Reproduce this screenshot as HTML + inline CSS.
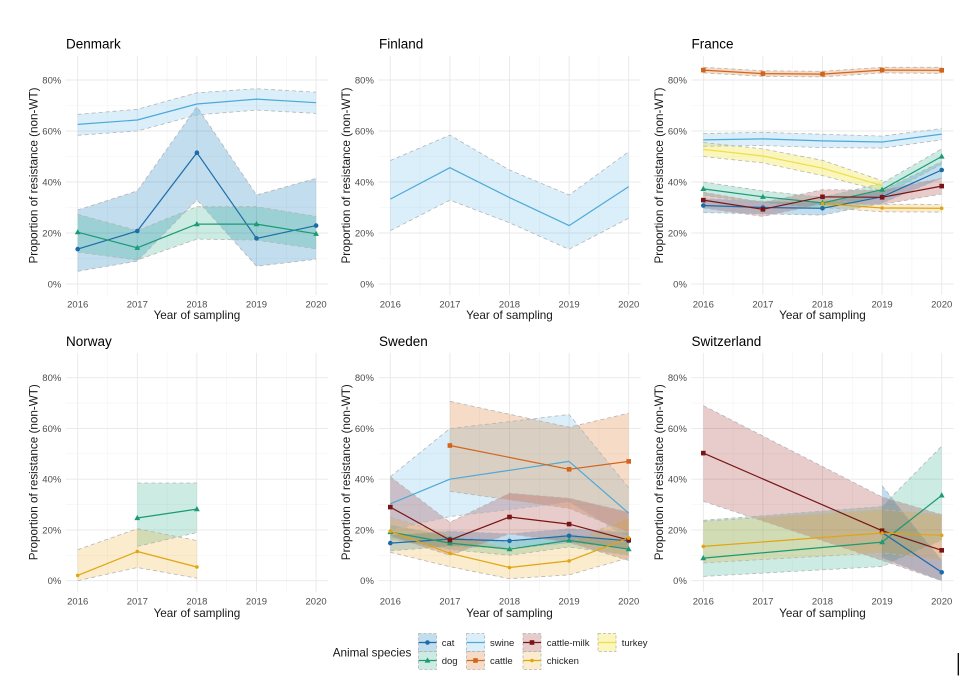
<!DOCTYPE html>
<html><head><meta charset="utf-8"><style>
html,body{margin:0;padding:0;background:#fff;}
svg{display:block;font-family:"Liberation Sans",Arial,sans-serif;}
.mj{stroke:#e8e8e8;stroke-width:0.9;fill:none}
.mn{stroke:#f3f3f3;stroke-width:0.6;fill:none}
.yt{font-size:9.5px;fill:#4d4d4d;text-anchor:end}
.xt{font-size:9.5px;fill:#4d4d4d;text-anchor:middle}
.at{font-size:11.7px;fill:#1a1a1a;text-anchor:middle}
.tt{font-size:13.5px;fill:#000}
.lg{font-size:9.5px;fill:#222}
.ed{fill:none;stroke:#b5b5b5;stroke-width:0.8;stroke-dasharray:4 3}
.ln{fill:none;stroke-width:1.2;stroke-linejoin:round}
.fcat{fill:#0072B2;fill-opacity:.24}
.fdog{fill:#009E73;fill-opacity:.2}
.fsw{fill:#56B4E9;fill-opacity:.22}
.fct{fill:#D55E00;fill-opacity:.22}
.fcm{fill:#8B0000;fill-opacity:.2}
.fch{fill:#E69F00;fill-opacity:.2}
.ftk{fill:#F0E442;fill-opacity:.35}
.scat{stroke:#1b6ca8}.sdog{stroke:#1b9a74}.ssw{stroke:#4fa9d6}.sct{stroke:#d2651a}.scm{stroke:#7a1515}.sch{stroke:#e0a510}.stk{stroke:#ece048}
</style></head><body>
<svg width="976" height="688" viewBox="0 0 976 688" xmlns="http://www.w3.org/2000/svg">
<defs>
<circle id="mc" r="2.3"/>
<rect id="ms" x="-2.3" y="-2.3" width="4.6" height="4.6"/>
<polygon id="mt" points="0,-3.1 2.9,2.1 -2.9,2.1"/>
<circle id="mk" r="1.8"/>
<g id="g1">
<path class="mn" d="M107.5 56V295M167.1 56V295M226.7 56V295M286.3 56V295M65.8 258.5H328M65.8 207.5H328M65.8 156.5H328M65.8 105.5H328"/>
<path class="mj" d="M77.7 56V295M137.3 56V295M196.9 56V295M256.5 56V295M316.1 56V295M65.8 284H328M65.8 233H328M65.8 182H328M65.8 131H328M65.8 80H328"/>
</g>
<g id="g2">
<path class="mn" d="M107.5 352.7V591.7M167.1 352.7V591.7M226.7 352.7V591.7M286.3 352.7V591.7M65.8 555.3H328M65.8 504.6H328M65.8 453.8H328M65.8 403.1H328"/>
<path class="mj" d="M77.7 352.7V591.7M137.3 352.7V591.7M196.9 352.7V591.7M256.5 352.7V591.7M316.1 352.7V591.7M65.8 580.7H328M65.8 529.95H328M65.8 479.2H328M65.8 428.45H328M65.8 377.7H328"/>
</g>
</defs>

<use href="#g1"/><use href="#g1" x="312.6"/><use href="#g1" x="625.6"/>
<use href="#g2"/><use href="#g2" x="312.6"/><use href="#g2" x="625.6"/>

<text class="tt" x="66" y="48.3">Denmark</text>
<text class="tt" x="379" y="48.3">Finland</text>
<text class="tt" x="691.5" y="48.3">France</text>
<text class="tt" x="66" y="346">Norway</text>
<text class="tt" x="379" y="346">Sweden</text>
<text class="tt" x="691.5" y="346">Switzerland</text>

<g class="yt">
<text x="61.3" y="287.3">0%</text><text x="61.3" y="236.3">20%</text><text x="61.3" y="185.3">40%</text><text x="61.3" y="134.3">60%</text><text x="61.3" y="83.3">80%</text>
<text x="373.9" y="287.3">0%</text><text x="373.9" y="236.3">20%</text><text x="373.9" y="185.3">40%</text><text x="373.9" y="134.3">60%</text><text x="373.9" y="83.3">80%</text>
<text x="686.9" y="287.3">0%</text><text x="686.9" y="236.3">20%</text><text x="686.9" y="185.3">40%</text><text x="686.9" y="134.3">60%</text><text x="686.9" y="83.3">80%</text>
<text x="61.3" y="584">0%</text><text x="61.3" y="533.3">20%</text><text x="61.3" y="482.5">40%</text><text x="61.3" y="431.8">60%</text><text x="61.3" y="381">80%</text>
<text x="373.9" y="584">0%</text><text x="373.9" y="533.3">20%</text><text x="373.9" y="482.5">40%</text><text x="373.9" y="431.8">60%</text><text x="373.9" y="381">80%</text>
<text x="686.9" y="584">0%</text><text x="686.9" y="533.3">20%</text><text x="686.9" y="482.5">40%</text><text x="686.9" y="431.8">60%</text><text x="686.9" y="381">80%</text>
</g>
<g class="xt">
<text x="77.7" y="307.5">2016</text><text x="137.3" y="307.5">2017</text><text x="196.9" y="307.5">2018</text><text x="256.5" y="307.5">2019</text><text x="316.1" y="307.5">2020</text>
<text x="390.3" y="307.5">2016</text><text x="449.9" y="307.5">2017</text><text x="509.5" y="307.5">2018</text><text x="569.1" y="307.5">2019</text><text x="628.7" y="307.5">2020</text>
<text x="703.3" y="307.5">2016</text><text x="762.9" y="307.5">2017</text><text x="822.5" y="307.5">2018</text><text x="882.1" y="307.5">2019</text><text x="941.7" y="307.5">2020</text>
<text x="77.7" y="604.3">2016</text><text x="137.3" y="604.3">2017</text><text x="196.9" y="604.3">2018</text><text x="256.5" y="604.3">2019</text><text x="316.1" y="604.3">2020</text>
<text x="390.3" y="604.3">2016</text><text x="449.9" y="604.3">2017</text><text x="509.5" y="604.3">2018</text><text x="569.1" y="604.3">2019</text><text x="628.7" y="604.3">2020</text>
<text x="703.3" y="604.3">2016</text><text x="762.9" y="604.3">2017</text><text x="822.5" y="604.3">2018</text><text x="882.1" y="604.3">2019</text><text x="941.7" y="604.3">2020</text>
</g>
<g class="at">
<text x="196.9" y="318.8">Year of sampling</text><text x="509.5" y="318.8">Year of sampling</text><text x="822.5" y="318.8">Year of sampling</text>
<text x="196.9" y="616.8">Year of sampling</text><text x="509.5" y="616.8">Year of sampling</text><text x="822.5" y="616.8">Year of sampling</text>
<text transform="translate(37.5,175.5) rotate(-90)">Proportion of resistance (non-WT)</text>
<text transform="translate(350.1,175.5) rotate(-90)">Proportion of resistance (non-WT)</text>
<text transform="translate(663.1,175.5) rotate(-90)">Proportion of resistance (non-WT)</text>
<text transform="translate(37.5,472.2) rotate(-90)">Proportion of resistance (non-WT)</text>
<text transform="translate(350.1,472.2) rotate(-90)">Proportion of resistance (non-WT)</text>
<text transform="translate(663.1,472.2) rotate(-90)">Proportion of resistance (non-WT)</text>
</g>

<!-- Denmark -->
<polygon class="fcat" points="77.7,210.0 137.3,190.9 196.9,106.8 256.5,195.0 316.1,178.4 316.1,259.3 256.5,266.2 196.9,199.9 137.3,261.1 77.7,271.3"/>
<polygon class="fdog" points="77.7,214.4 137.3,230.5 196.9,206.7 256.5,206.7 316.1,216.4 316.1,248.8 256.5,240.1 196.9,239.1 137.3,260.0 77.7,252.1"/>
<polygon class="fsw" points="77.7,114.4 137.3,109.3 196.9,92.8 256.5,88.7 316.1,92.2 316.1,113.4 256.5,110.1 196.9,114.9 137.3,131.0 77.7,135.3"/>
<polyline class="ed" points="77.7,210.0 137.3,190.9 196.9,106.8 256.5,195.0 316.1,178.4"/>
<polyline class="ed" points="77.7,271.3 137.3,261.1 196.9,199.9 256.5,266.2 316.1,259.3"/>
<polyline class="ed" points="77.7,214.4 137.3,230.5 196.9,206.7 256.5,206.7 316.1,216.4"/>
<polyline class="ed" points="77.7,252.1 137.3,260.0 196.9,239.1 256.5,240.1 316.1,248.8"/>
<polyline class="ed" points="77.7,114.4 137.3,109.3 196.9,92.8 256.5,88.7 316.1,92.2"/>
<polyline class="ed" points="77.7,135.3 137.3,131.0 196.9,114.9 256.5,110.1 316.1,113.4"/>
<polyline class="ln scat" points="77.7,249.1 137.3,231.0 196.9,152.7 256.5,238.4 316.1,225.6"/>
<polyline class="ln sdog" points="77.7,232.2 137.3,247.8 196.9,224.1 256.5,224.1 316.1,233.8"/>
<polyline class="ln ssw" points="77.7,124.4 137.3,120.0 196.9,104.0 256.5,99.1 316.1,102.7"/>
<g fill="#1b6ca8"><use href="#mc" x="77.7" y="249.1"/><use href="#mc" x="137.3" y="231.0"/><use href="#mc" x="196.9" y="152.7"/><use href="#mc" x="256.5" y="238.4"/><use href="#mc" x="316.1" y="225.6"/></g>
<g fill="#1b9a74"><use href="#mt" x="77.7" y="232.2"/><use href="#mt" x="137.3" y="247.8"/><use href="#mt" x="196.9" y="224.1"/><use href="#mt" x="256.5" y="224.1"/><use href="#mt" x="316.1" y="233.8"/></g>

<!-- Finland -->
<polygon class="fsw" points="390.3,160.6 449.9,135.1 509.5,170.0 569.1,195.0 628.7,151.7 628.7,218.2 569.1,249.3 509.5,222.8 449.9,200.1 390.3,230.7"/>
<polyline class="ed" points="390.3,160.6 449.9,135.1 509.5,170.0 569.1,195.0 628.7,151.7"/>
<polyline class="ed" points="390.3,230.7 449.9,200.1 509.5,222.8 569.1,249.3 628.7,218.2"/>
<polyline class="ln ssw" points="390.3,199.1 449.9,167.7 509.5,197.6 569.1,225.6 628.7,186.6"/>

<!-- France -->
<polygon class="fcat" points="703.3,198.6 762.9,201.1 822.5,202.4 882.1,190.4 941.7,161.6 941.7,178.2 882.1,203.2 822.5,215.1 762.9,213.9 703.3,212.6"/>
<polygon class="fdog" points="703.3,182.0 762.9,190.9 822.5,197.3 882.1,183.3 941.7,148.9 941.7,164.2 882.1,196.0 822.5,208.8 762.9,202.9 703.3,195.5"/>
<polygon class="fsw" points="703.3,133.6 762.9,132.3 822.5,134.3 882.1,136.1 941.7,128.5 941.7,139.9 882.1,148.1 822.5,147.6 762.9,145.5 703.3,146.3"/>
<polygon class="fct" points="703.3,67.3 762.9,70.8 822.5,71.3 882.1,67.3 941.7,67.3 941.7,73.4 882.1,72.9 822.5,76.9 762.9,76.4 703.3,72.9"/>
<polygon class="fcm" points="703.3,192.2 762.9,202.4 822.5,189.7 882.1,190.2 941.7,178.2 941.7,194.0 882.1,204.4 822.5,203.9 762.9,216.4 703.3,208.0"/>
<polygon class="fch" points="822.5,199.9 882.1,204.2 941.7,204.4 941.7,212.1 882.1,211.8 822.5,207.5"/>
<polygon class="ftk" points="703.3,142.5 762.9,148.9 822.5,160.3 882.1,180.7 882.1,190.9 822.5,175.6 762.9,162.9 703.3,156.5"/>
<polyline class="ed" points="703.3,198.6 762.9,201.1 822.5,202.4 882.1,190.4 941.7,161.6"/>
<polyline class="ed" points="703.3,212.6 762.9,213.9 822.5,215.1 882.1,203.2 941.7,178.2"/>
<polyline class="ed" points="703.3,182.0 762.9,190.9 822.5,197.3 882.1,183.3 941.7,148.9"/>
<polyline class="ed" points="703.3,195.5 762.9,202.9 822.5,208.8 882.1,196.0 941.7,164.2"/>
<polyline class="ed" points="703.3,133.6 762.9,132.3 822.5,134.3 882.1,136.1 941.7,128.5"/>
<polyline class="ed" points="703.3,146.3 762.9,145.5 822.5,147.6 882.1,148.1 941.7,139.9"/>
<polyline class="ed" points="703.3,67.3 762.9,70.8 822.5,71.3 882.1,67.3 941.7,67.3"/>
<polyline class="ed" points="703.3,72.9 762.9,76.4 822.5,76.9 882.1,72.9 941.7,73.4"/>
<polyline class="ed" points="703.3,192.2 762.9,202.4 822.5,189.7 882.1,190.2 941.7,178.2"/>
<polyline class="ed" points="703.3,208.0 762.9,216.4 822.5,203.9 882.1,204.4 941.7,194.0"/>
<polyline class="ed" points="822.5,199.9 882.1,204.2 941.7,204.4"/>
<polyline class="ed" points="822.5,207.5 882.1,211.8 941.7,212.1"/>
<polyline class="ed" points="703.3,142.5 762.9,148.9 822.5,160.3 882.1,180.7"/>
<polyline class="ed" points="703.3,156.5 762.9,162.9 822.5,175.6 882.1,190.9"/>
<polyline class="ln scat" points="703.3,205.5 762.9,207.5 822.5,208.3 882.1,196.8 941.7,170.0"/>
<polyline class="ln sdog" points="703.3,188.9 762.9,196.8 822.5,202.9 882.1,189.7 941.7,156.5"/>
<polyline class="ln ssw" points="703.3,139.9 762.9,138.9 822.5,140.9 882.1,142.0 941.7,134.1"/>
<polyline class="ln sct" points="703.3,70.1 762.9,73.6 822.5,74.1 882.1,70.1 941.7,70.3"/>
<polyline class="ln scm" points="703.3,200.1 762.9,209.3 822.5,196.8 882.1,197.3 941.7,186.1"/>
<polyline class="ln sch" points="822.5,203.7 882.1,208.0 941.7,208.3"/>
<polyline class="ln stk" points="703.3,149.4 762.9,156.0 822.5,168.2 882.1,185.6"/>
<g fill="#1b6ca8"><use href="#mc" x="703.3" y="205.5"/><use href="#mc" x="762.9" y="207.5"/><use href="#mc" x="822.5" y="208.3"/><use href="#mc" x="882.1" y="196.8"/><use href="#mc" x="941.7" y="170.0"/></g>
<g fill="#1b9a74"><use href="#mt" x="703.3" y="188.9"/><use href="#mt" x="762.9" y="196.8"/><use href="#mt" x="822.5" y="202.9"/><use href="#mt" x="882.1" y="189.7"/><use href="#mt" x="941.7" y="156.5"/></g>
<g fill="#d2651a"><use href="#ms" x="703.3" y="70.1"/><use href="#ms" x="762.9" y="73.6"/><use href="#ms" x="822.5" y="74.1"/><use href="#ms" x="882.1" y="70.1"/><use href="#ms" x="941.7" y="70.3"/></g>
<g fill="#7a1515"><use href="#ms" x="703.3" y="200.1"/><use href="#ms" x="762.9" y="209.3"/><use href="#ms" x="822.5" y="196.8"/><use href="#ms" x="882.1" y="197.3"/><use href="#ms" x="941.7" y="186.1"/></g>
<g fill="#e0a510"><use href="#mk" x="822.5" y="203.7"/><use href="#mk" x="882.1" y="208.0"/><use href="#mk" x="941.7" y="208.3"/></g>

<!-- Norway -->
<polygon class="fdog" points="137.3,483.0 196.9,483.0 196.9,532.5 137.3,546.4"/>
<polygon class="fch" points="77.7,549.7 137.3,528.7 196.9,540.6 196.9,578.2 137.3,567.5 77.7,580.7"/>
<polyline class="ed" points="137.3,483.0 196.9,483.0"/>
<polyline class="ed" points="137.3,546.4 196.9,532.5"/>
<polyline class="ed" points="77.7,549.7 137.3,528.7 196.9,540.6"/>
<polyline class="ed" points="77.7,580.7 137.3,567.5 196.9,578.2"/>
<polyline class="ln sdog" points="137.3,518.0 196.9,509.1"/>
<polyline class="ln sch" points="77.7,575.4 137.3,551.5 196.9,567.0"/>
<g fill="#1b9a74"><use href="#mt" x="137.3" y="518.0"/><use href="#mt" x="196.9" y="509.1"/></g>
<g fill="#e0a510"><use href="#mk" x="77.7" y="575.4"/><use href="#mk" x="137.3" y="551.5"/><use href="#mk" x="196.9" y="567.0"/></g>

<!-- Sweden -->
<polygon class="fcat" points="390.3,535.0 449.9,531.2 509.5,533.8 569.1,528.7 628.7,532.5 628.7,549.0 569.1,542.6 509.5,547.7 449.9,546.4 390.3,550.8"/>
<polygon class="fdog" points="390.3,524.9 449.9,536.3 509.5,542.6 569.1,533.8 628.7,542.6 628.7,555.3 569.1,547.0 509.5,555.3 449.9,549.5 390.3,538.8"/>
<polygon class="fsw" points="390.3,476.7 449.9,428.5 509.5,421.6 569.1,414.5 628.7,487.8 628.7,537.6 569.1,502.0 509.5,509.7 449.9,516.5 390.3,530.0"/>
<polygon class="fct" points="449.9,401.3 569.1,427.2 628.7,413.2 628.7,532.5 569.1,508.4 449.9,491.4"/>
<polygon class="fcm" points="390.3,476.7 449.9,522.3 509.5,493.2 569.1,498.2 628.7,512.2 628.7,560.4 569.1,542.6 509.5,533.8 449.9,555.3 390.3,536.3"/>
<polygon class="fch" points="390.3,517.3 449.9,535.0 509.5,549.0 569.1,542.6 628.7,517.3 628.7,557.9 569.1,574.9 509.5,578.7 449.9,566.7 390.3,552.3"/>
<polyline class="ed" points="390.3,535.0 449.9,531.2 509.5,533.8 569.1,528.7 628.7,532.5"/>
<polyline class="ed" points="390.3,550.8 449.9,546.4 509.5,547.7 569.1,542.6 628.7,549.0"/>
<polyline class="ed" points="390.3,524.9 449.9,536.3 509.5,542.6 569.1,533.8 628.7,542.6"/>
<polyline class="ed" points="390.3,538.8 449.9,549.5 509.5,555.3 569.1,547.0 628.7,555.3"/>
<polyline class="ed" points="390.3,476.7 449.9,428.5 509.5,421.6 569.1,414.5 628.7,487.8"/>
<polyline class="ed" points="390.3,530.0 449.9,516.5 509.5,509.7 569.1,502.0 628.7,537.6"/>
<polyline class="ed" points="449.9,401.3 569.1,427.2 628.7,413.2"/>
<polyline class="ed" points="449.9,491.4 569.1,508.4 628.7,532.5"/>
<polyline class="ed" points="390.3,476.7 449.9,522.3 509.5,493.2 569.1,498.2 628.7,512.2"/>
<polyline class="ed" points="390.3,536.3 449.9,555.3 509.5,533.8 569.1,542.6 628.7,560.4"/>
<polyline class="ed" points="390.3,517.3 449.9,535.0 509.5,549.0 569.1,542.6 628.7,517.3"/>
<polyline class="ed" points="390.3,552.3 449.9,566.7 509.5,578.7 569.1,574.9 628.7,557.9"/>
<polyline class="ln scat" points="390.3,543.1 449.9,539.1 509.5,540.9 569.1,535.8 628.7,540.9"/>
<polyline class="ln sdog" points="390.3,532.0 449.9,543.1 509.5,549.2 569.1,540.4 628.7,549.2"/>
<polyline class="ln ssw" points="390.3,503.8 449.9,479.2 509.5,470.3 569.1,461.4 628.7,513.2"/>
<polyline class="ln sct" points="449.9,445.5 569.1,469.3 628.7,461.4"/>
<polyline class="ln scm" points="390.3,507.1 449.9,540.1 509.5,517.0 569.1,524.1 628.7,540.1"/>
<polyline class="ln sch" points="390.3,531.2 449.9,553.3 509.5,567.5 569.1,560.9 628.7,538.1"/>
<g fill="#1b6ca8"><use href="#mc" x="390.3" y="543.1"/><use href="#mc" x="449.9" y="539.1"/><use href="#mc" x="509.5" y="540.9"/><use href="#mc" x="569.1" y="535.8"/><use href="#mc" x="628.7" y="540.9"/></g>
<g fill="#1b9a74"><use href="#mt" x="390.3" y="532.0"/><use href="#mt" x="449.9" y="543.1"/><use href="#mt" x="509.5" y="549.2"/><use href="#mt" x="569.1" y="540.4"/><use href="#mt" x="628.7" y="549.2"/></g>
<g fill="#d2651a"><use href="#ms" x="449.9" y="445.5"/><use href="#ms" x="569.1" y="469.3"/><use href="#ms" x="628.7" y="461.4"/></g>
<g fill="#7a1515"><use href="#ms" x="390.3" y="507.1"/><use href="#ms" x="449.9" y="540.1"/><use href="#ms" x="509.5" y="517.0"/><use href="#ms" x="569.1" y="524.1"/><use href="#ms" x="628.7" y="540.1"/></g>
<g fill="#e0a510"><use href="#mk" x="390.3" y="531.2"/><use href="#mk" x="449.9" y="553.3"/><use href="#mk" x="509.5" y="567.5"/><use href="#mk" x="569.1" y="560.9"/><use href="#mk" x="628.7" y="538.1"/></g>

<!-- Switzerland -->
<polygon class="fcat" points="882.1,485.8 941.7,560.4 941.7,580.7 882.1,557.9"/>
<polygon class="fdog" points="703.3,520.3 882.1,506.4 941.7,446.2 941.7,540.1 882.1,566.5 703.3,576.4"/>
<polygon class="fcm" points="703.3,405.6 882.1,497.0 941.7,514.7 941.7,580.7 882.1,560.4 703.3,501.3"/>
<polygon class="fch" points="703.3,521.3 882.1,509.7 941.7,514.7 941.7,560.4 882.1,552.8 703.3,562.9"/>
<polyline class="ed" points="882.1,485.8 941.7,560.4"/>
<polyline class="ed" points="882.1,557.9 941.7,580.7"/>
<polyline class="ed" points="703.3,520.3 882.1,506.4 941.7,446.2"/>
<polyline class="ed" points="703.3,576.4 882.1,566.5 941.7,540.1"/>
<polyline class="ed" points="703.3,405.6 882.1,497.0 941.7,514.7"/>
<polyline class="ed" points="703.3,501.3 882.1,560.4 941.7,580.7"/>
<polyline class="ed" points="703.3,521.3 882.1,509.7 941.7,514.7"/>
<polyline class="ed" points="703.3,562.9 882.1,552.8 941.7,560.4"/>
<polyline class="ln scat" points="882.1,532.5 941.7,572.3"/>
<polyline class="ln sdog" points="703.3,558.1 882.1,542.1 941.7,495.4"/>
<polyline class="ln scm" points="703.3,453.1 882.1,530.7 941.7,550.3"/>
<polyline class="ln sch" points="703.3,546.4 882.1,533.0 941.7,535.3"/>
<g fill="#1b6ca8"><use href="#mc" x="882.1" y="532.5"/><use href="#mc" x="941.7" y="572.3"/></g>
<g fill="#1b9a74"><use href="#mt" x="703.3" y="558.1"/><use href="#mt" x="882.1" y="542.1"/><use href="#mt" x="941.7" y="495.4"/></g>
<g fill="#7a1515"><use href="#ms" x="703.3" y="453.1"/><use href="#ms" x="882.1" y="530.7"/><use href="#ms" x="941.7" y="550.3"/></g>
<g fill="#e0a510"><use href="#mk" x="703.3" y="546.4"/><use href="#mk" x="882.1" y="533.0"/><use href="#mk" x="941.7" y="535.3"/></g>

<!-- Legend -->
<text x="332.7" y="656.5" style="font-size:11.7px;fill:#1a1a1a">Animal species</text>
<g>
<rect class="fcat" x="418.5" y="633.5" width="18" height="18"/>
<rect class="ed" x="418.5" y="633.5" width="18" height="18" style="stroke-dasharray:3 2"/>
<line class="ln scat" x1="418.5" y1="642.5" x2="436.5" y2="642.5"/><use href="#mc" x="427.5" y="642.5" fill="#1b6ca8"/>
<rect class="fdog" x="418.5" y="651.5" width="18" height="18"/>
<rect class="ed" x="418.5" y="651.5" width="18" height="18" style="stroke-dasharray:3 2"/>
<line class="ln sdog" x1="418.5" y1="660.5" x2="436.5" y2="660.5"/><use href="#mt" x="427.5" y="660.5" fill="#1b9a74"/>
<rect class="fsw" x="466.5" y="633.5" width="18" height="18"/>
<rect class="ed" x="466.5" y="633.5" width="18" height="18" style="stroke-dasharray:3 2"/>
<line class="ln ssw" x1="466.5" y1="642.5" x2="484.5" y2="642.5"/>
<rect class="fct" x="466.5" y="651.5" width="18" height="18"/>
<rect class="ed" x="466.5" y="651.5" width="18" height="18" style="stroke-dasharray:3 2"/>
<line class="ln sct" x1="466.5" y1="660.5" x2="484.5" y2="660.5"/><use href="#ms" x="475.5" y="660.5" fill="#d2651a"/>
<rect class="fcm" x="523" y="633.5" width="18" height="18"/>
<rect class="ed" x="523" y="633.5" width="18" height="18" style="stroke-dasharray:3 2"/>
<line class="ln scm" x1="523" y1="642.5" x2="541" y2="642.5"/><use href="#ms" x="532" y="642.5" fill="#7a1515"/>
<rect class="fch" x="523" y="651.5" width="18" height="18"/>
<rect class="ed" x="523" y="651.5" width="18" height="18" style="stroke-dasharray:3 2"/>
<line class="ln sch" x1="523" y1="660.5" x2="541" y2="660.5"/><use href="#mk" x="532" y="660.5" fill="#e0a510"/>
<rect class="ftk" x="598" y="633.5" width="18" height="18"/>
<rect class="ed" x="598" y="633.5" width="18" height="18" style="stroke-dasharray:3 2"/>
<line class="ln stk" x1="598" y1="642.5" x2="616" y2="642.5"/>
</g>
<g class="lg">
<text x="441.7" y="645.8">cat</text><text x="441.7" y="663.8">dog</text>
<text x="490" y="645.8">swine</text><text x="490" y="663.8">cattle</text>
<text x="546.7" y="645.8">cattle-milk</text><text x="546.7" y="663.8">chicken</text>
<text x="621.7" y="645.8">turkey</text>
</g>

<line x1="958.3" y1="653" x2="958.3" y2="675.5" stroke="#000" stroke-width="1.3"/>
</svg>
</body></html>
